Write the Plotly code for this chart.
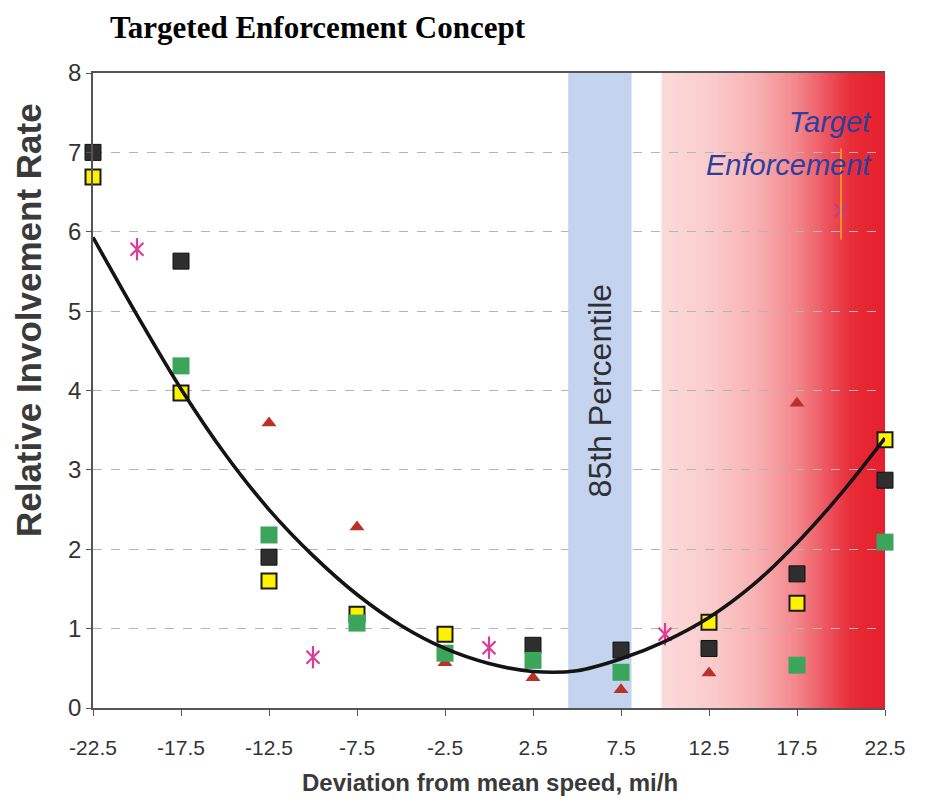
import plotly.graph_objects as go

# ---------------- data ----------------
x_cats = [-22.5, -17.5, -12.5, -7.5, -2.5, 2.5, 7.5, 12.5, 17.5, 22.5]
tick_labels = ["-22.5", "-17.5", "-12.5", "-7.5", "-2.5", "2.5", "7.5", "12.5", "17.5", "22.5"]

dark_sq   = [7.00, 5.63, 1.90, None, None, 0.79, 0.73, 0.75, 1.69, 2.87]
yellow_sq = [6.69, 3.97, 1.60, 1.18, 0.93, None, None, 1.08, 1.32, 3.38]
green_sq  = [None, 4.31, 2.18, 1.07, 0.69, 0.60, 0.45, None, 0.54, 2.09]
red_tri   = [None, None, 3.59, 2.28, 0.57, 0.38, 0.23, 0.44, 3.84, None]

star_x = [-20, -10, 0, 10]
star_y = [5.78, 0.64, 0.76, 0.93]

cross_x = [20]
cross_y = [6.27]
cross_bar_lo = [5.90]
cross_bar_hi = [7.05]

curve_x = [-22.5, -20, -17.5, -15, -12.5, -10, -7.5, -5, -2.5, 0,
           2.5, 5, 7.5, 10, 12.5, 15, 17.5, 20, 22.5]
curve_y = [5.93, 4.95, 4.02, 3.20, 2.50, 1.92, 1.43, 1.04, 0.75, 0.56,
           0.46, 0.47, 0.62, 0.84, 1.14, 1.55, 2.08, 2.70, 3.40]

band_85 = [4.5, 8.1]
band_target = [9.8, 22.5]
y_range = [0, 8]

# ---------------- figure ----------------
fig = go.Figure()

# gradient stops for the target-enforcement zone (position fraction, rgb)
stops = [(0.00, (252, 218, 218)), (0.22, (250, 204, 204)), (0.42, (248, 178, 180)),
         (0.60, (243, 136, 141)), (0.73, (237, 88, 98)), (0.85, (232, 44, 56)),
         (1.00, (229, 31, 46))]


def grad_color(f):
    for (p0, c0), (p1, c1) in zip(stops[:-1], stops[1:]):
        if p0 <= f <= p1:
            t = (f - p0) / (p1 - p0) if p1 > p0 else 0
            c = [round(a + (b - a) * t) for a, b in zip(c0, c1)]
            return "rgb(%d,%d,%d)" % tuple(c)
    return "rgb(%d,%d,%d)" % stops[-1][1]


n_strips = 140
x0b, x1b = band_target
w = (x1b - x0b) / n_strips
shapes = []
for i in range(n_strips):
    f = (i + 0.5) / n_strips
    shapes.append(dict(type="rect", xref="x", yref="y",
                       x0=x0b + i * w, x1=min(x0b + (i + 1) * w + w * 0.6, x1b),
                       y0=y_range[0], y1=y_range[1],
                       fillcolor=grad_color(f), line=dict(width=0), layer="below"))

shapes.append(dict(type="rect", xref="x", yref="y", x0=band_85[0], x1=band_85[1],
                   y0=y_range[0], y1=y_range[1], fillcolor="#c4d4ef",
                   line=dict(width=0), layer="between"))

# small orange vertical stroke at the cross marker
shapes.append(dict(type="line", xref="x", yref="y", x0=cross_x[0], x1=cross_x[0],
                   y0=cross_bar_lo[0], y1=cross_bar_hi[0],
                   line=dict(color="#f2a51e", width=1.6), layer="above"))

fig.add_trace(go.Scatter(x=x_cats, y=red_tri, mode="markers", cliponaxis=False,
                         marker=dict(symbol="triangle-up", size=13, color="#b8322a",
                                     line=dict(width=0))))
fig.add_trace(go.Scatter(x=x_cats, y=dark_sq, mode="markers", cliponaxis=False,
                         marker=dict(symbol="square", size=16, color="#2e2e2e",
                                     line=dict(width=1, color="#111111"))))
fig.add_trace(go.Scatter(x=x_cats, y=yellow_sq, mode="markers", cliponaxis=False,
                         marker=dict(symbol="square", size=15, color="#fff200",
                                     line=dict(width=2, color="#1a1a1a"))))
fig.add_trace(go.Scatter(x=x_cats, y=green_sq, mode="markers", cliponaxis=False,
                         marker=dict(symbol="square", size=17, color="#3ba55b",
                                     line=dict(width=0))))
fig.add_trace(go.Scatter(x=star_x, y=star_y, mode="markers", cliponaxis=False,
                         marker=dict(symbol="x-thin-open", size=13, color="#dc3c96",
                                     line=dict(width=2.2, color="#dc3c96"))))
fig.add_trace(go.Scatter(x=star_x, y=star_y, mode="markers", cliponaxis=False,
                         marker=dict(symbol="line-ns-open", size=16, color="#dc3c96",
                                     line=dict(width=2.2, color="#dc3c96"))))
fig.add_trace(go.Scatter(x=cross_x, y=cross_y, mode="markers", cliponaxis=False,
                         marker=dict(symbol="x-thin-open", size=13, color="#b0449a",
                                     line=dict(width=1.6, color="#b0449a"))))
fig.add_trace(go.Scatter(x=curve_x, y=curve_y, mode="lines", line_shape="spline",
                         line=dict(color="#141414", width=3.6)))

font_sans = "Arial, Liberation Sans, sans-serif"

annotations = [
    dict(text="<b>Targeted Enforcement Concept</b>", x=(100 - 85) / 792, y=1 + (65 - 20) / 635,
         xref="paper", yref="paper", xanchor="left", yanchor="middle", showarrow=False,
         font=dict(family="Times New Roman, Liberation Serif, serif", size=31,
                   color="#000000")),
    dict(text="85th Percentile", x=(band_85[0] + band_85[1]) / 2, y=4.0,
         xref="x", yref="y", textangle=-90, showarrow=False,
         font=dict(family=font_sans, size=32, color="#2f2f35")),
    dict(text="<i>Target</i>", x=21.85, y=7.38, xref="x", yref="y",
         xanchor="right", yanchor="middle", showarrow=False,
         font=dict(family=font_sans, size=29, color="#2b3fa0")),
    dict(text="<i>Enforcement</i>", x=21.85, y=6.84, xref="x", yref="y",
         xanchor="right", yanchor="middle", showarrow=False,
         font=dict(family=font_sans, size=29, color="#2b3fa0")),
    dict(text="<b>Relative Involvement Rate</b>", x=-0.082, y=0.611,
         xref="paper", yref="paper", textangle=-90, showarrow=False,
         xanchor="center", yanchor="middle",
         font=dict(family=font_sans, size=35, color="#3a3a3a")),
    dict(text="<b>Deviation from mean speed, mi/h</b>", x=0.501, y=-0.117,
         xref="paper", yref="paper", showarrow=False,
         xanchor="center", yanchor="middle",
         font=dict(family=font_sans, size=24, color="#3a3a3a")),
]

fig.update_layout(
    width=932, height=804,
    margin=dict(l=85, r=55, t=65, b=104),
    paper_bgcolor="white", plot_bgcolor="white",
    showlegend=False,
    shapes=shapes,
    annotations=annotations,
)

fig.update_xaxes(range=[-22.5, 22.5], tickmode="array", tickvals=x_cats,
                 ticktext=tick_labels, showgrid=False, zeroline=False,
                 showline=True, linecolor="#555555", linewidth=1.5, mirror=True,
                 ticks="outside", ticklen=6, tickcolor="#555555",
                 ticklabelstandoff=14,
                 tickfont=dict(family=font_sans, size=21, color="#333333"))
fig.update_yaxes(range=y_range, dtick=1, showgrid=True, gridcolor="#b5b5b5",
                 griddash="dash", gridwidth=1, zeroline=False,
                 showline=True, linecolor="#555555", linewidth=1.5,
                 ticks="outside", ticklen=5, tickcolor="#555555",
                 tickfont=dict(family=font_sans, size=24, color="#333333"))

fig.write_html("out.html")
